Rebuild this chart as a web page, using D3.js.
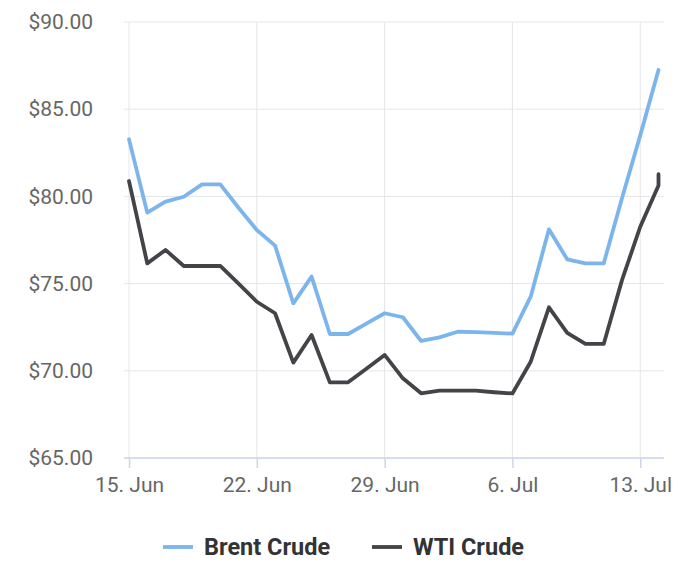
<!DOCTYPE html>
<html>
<head>
<meta charset="utf-8">
<script src="https://cdn.jsdelivr.net/npm/d3@7"></script>
<style>
html,body{margin:0;padding:0;background:#fff;}
svg{display:block;font-family:Roboto,"Noto Sans",sans-serif;}
</style>
</head>
<body>
<svg id="chart" width="700" height="577"></svg>
<script>
const dates = ["2023-06-15","2023-06-16","2023-06-17","2023-06-18","2023-06-19","2023-06-20","2023-06-21",
  "2023-06-22","2023-06-23","2023-06-24","2023-06-25","2023-06-26","2023-06-27","2023-06-28",
  "2023-06-29","2023-06-30","2023-07-01","2023-07-02","2023-07-03","2023-07-04","2023-07-05",
  "2023-07-06","2023-07-07","2023-07-08","2023-07-09","2023-07-10","2023-07-11","2023-07-12",
  "2023-07-13","2023-07-14","2023-07-14"];
const brent = [83.27,79.07,79.70,79.98,80.69,80.69,79.35,
  78.07,77.18,73.87,75.40,72.11,72.11,72.70,
  73.30,73.07,71.71,71.92,72.24,72.22,72.18,
  72.13,74.25,78.11,76.39,76.16,76.16,79.89,
  83.50,87.25,87.25];
const wti = [80.88,76.16,76.93,76.01,76.01,76.01,75.00,
  73.96,73.30,70.47,72.05,69.34,69.34,70.12,
  70.91,69.57,68.71,68.86,68.86,68.86,68.77,
  68.70,70.52,73.64,72.18,71.54,71.54,75.20,
  78.26,80.63,81.27];
const seriesNames = ["Brent Crude","WTI Crude"];
const seriesColors = ["#7cb5ec","#434348"];
const yTicks = [65,70,75,80,85,90];
const xTickDates = ["2023-06-15","2023-06-22","2023-06-29","2023-07-06","2023-07-13"];

const svg = d3.select("#chart");
const plotL = 124, plotR = 664, plotT = 22, plotB = 458;
const parse = d3.utcParse("%Y-%m-%d");
const x = d3.scaleUtc().domain([parse(dates[0]), parse(dates[dates.length-1])]).range([129, 658.5]);
const y = d3.scaleLinear().domain([65,90]).range([plotB, plotT]);
const fmtY = v => "$" + d3.format(".2f")(v);
const fmtX = d3.utcFormat("%-d. %b");

// horizontal grid
svg.append("g").selectAll("line").data(yTicks).join("line")
  .attr("x1", plotL).attr("x2", plotR)
  .attr("y1", d => y(d)).attr("y2", d => y(d))
  .attr("stroke", "#e6e6e6").attr("stroke-width", 1);
// vertical grid
const xt = xTickDates.map(parse);
svg.append("g").selectAll("line").data(xt).join("line")
  .attr("x1", d => x(d)).attr("x2", d => x(d))
  .attr("y1", plotT).attr("y2", plotB)
  .attr("stroke", "#e6e6e6").attr("stroke-width", 1);

// x axis
const xAxis = d3.axisBottom(x).tickValues(xt).tickFormat(fmtX).tickSize(10).tickPadding(9);
const gx = svg.append("g").attr("transform", `translate(0,${plotB})`).call(xAxis);
gx.select(".domain").remove();
gx.append("line").attr("x1", plotL).attr("x2", plotR).attr("stroke", "#ccd6eb").attr("stroke-width", 1.5);
gx.selectAll(".tick line").attr("stroke", "#ccd6eb").attr("stroke-width", 1.5);
gx.selectAll(".tick text").attr("fill", "#666").style("font-size", "21px")
  .style("font-family", "Roboto,sans-serif");

// y axis
const yAxis = d3.axisLeft(y).tickValues(yTicks).tickFormat(fmtY).tickSize(0).tickPadding(0);
const gy = svg.append("g").attr("transform", `translate(93,0)`).call(yAxis);
gy.select(".domain").remove();
gy.selectAll(".tick text").attr("fill", "#666").style("font-size", "21px")
  .style("font-family", "Roboto,sans-serif");

// lines
const series = [brent, wti];
const line = d3.line().x((d,i) => x(parse(dates[i]))).y(d => y(d)).curve(d3.curveLinear);
series.forEach((s, k) => {
  svg.append("path").datum(s)
    .attr("fill", "none").attr("stroke", seriesColors[k])
    .attr("stroke-width", 3.8).attr("stroke-linejoin", "round").attr("stroke-linecap", "round")
    .attr("d", line);
});

// legend
const legend = svg.append("g").attr("transform", "translate(0,547)");
const legX = [163, 372];
seriesNames.forEach((n, k) => {
  const g = legend.append("g").attr("transform", `translate(${legX[k]},0)`);
  g.append("line").attr("x1", 0).attr("x2", 30).attr("y1", 0).attr("y2", 0)
    .attr("stroke", seriesColors[k]).attr("stroke-width", 3.8);
  g.append("text").attr("x", 41).attr("y", 0).attr("dy", "0.35em")
    .attr("fill", "#333").style("font-weight", "bold").style("font-size", "23.5px")
    .text(n);
});
</script>
</body>
</html>
